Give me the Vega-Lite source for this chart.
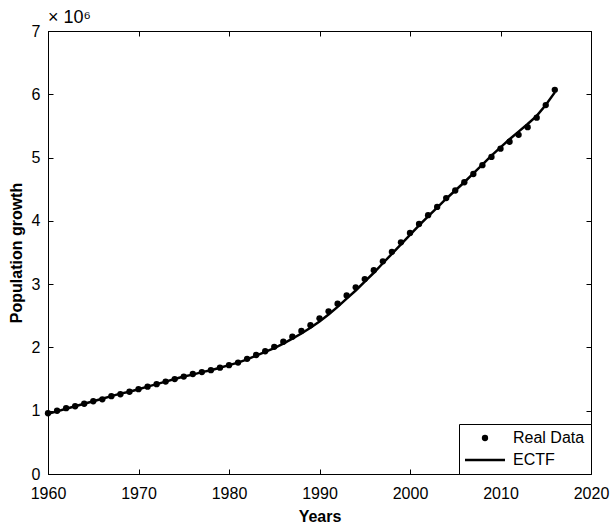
{
  "$schema": "https://vega.github.io/schema/vega-lite/v6.json",
  "autosize": "none",
  "width": 543,
  "height": 443,
  "padding": {"left": 48, "top": 31, "right": 20, "bottom": 55},
  "background": "white",
  "title": {"text": "× 10⁶", "anchor": "start", "frame": "group", "font": "Liberation Sans", "fontSize": 18, "fontWeight": "normal", "color": "black", "offset": -4},
  "datasets": {
    "real": [
      {"year": 1960, "value": 0.96, "series": "Real Data"},
      {"year": 1961, "value": 1.00, "series": "Real Data"},
      {"year": 1962, "value": 1.04, "series": "Real Data"},
      {"year": 1963, "value": 1.07, "series": "Real Data"},
      {"year": 1964, "value": 1.11, "series": "Real Data"},
      {"year": 1965, "value": 1.15, "series": "Real Data"},
      {"year": 1966, "value": 1.18, "series": "Real Data"},
      {"year": 1967, "value": 1.23, "series": "Real Data"},
      {"year": 1968, "value": 1.26, "series": "Real Data"},
      {"year": 1969, "value": 1.30, "series": "Real Data"},
      {"year": 1970, "value": 1.34, "series": "Real Data"},
      {"year": 1971, "value": 1.38, "series": "Real Data"},
      {"year": 1972, "value": 1.42, "series": "Real Data"},
      {"year": 1973, "value": 1.46, "series": "Real Data"},
      {"year": 1974, "value": 1.50, "series": "Real Data"},
      {"year": 1975, "value": 1.54, "series": "Real Data"},
      {"year": 1976, "value": 1.58, "series": "Real Data"},
      {"year": 1977, "value": 1.61, "series": "Real Data"},
      {"year": 1978, "value": 1.64, "series": "Real Data"},
      {"year": 1979, "value": 1.68, "series": "Real Data"},
      {"year": 1980, "value": 1.72, "series": "Real Data"},
      {"year": 1981, "value": 1.76, "series": "Real Data"},
      {"year": 1982, "value": 1.82, "series": "Real Data"},
      {"year": 1983, "value": 1.88, "series": "Real Data"},
      {"year": 1984, "value": 1.94, "series": "Real Data"},
      {"year": 1985, "value": 2.01, "series": "Real Data"},
      {"year": 1986, "value": 2.09, "series": "Real Data"},
      {"year": 1987, "value": 2.17, "series": "Real Data"},
      {"year": 1988, "value": 2.26, "series": "Real Data"},
      {"year": 1989, "value": 2.35, "series": "Real Data"},
      {"year": 1990, "value": 2.46, "series": "Real Data"},
      {"year": 1991, "value": 2.57, "series": "Real Data"},
      {"year": 1992, "value": 2.69, "series": "Real Data"},
      {"year": 1993, "value": 2.82, "series": "Real Data"},
      {"year": 1994, "value": 2.95, "series": "Real Data"},
      {"year": 1995, "value": 3.08, "series": "Real Data"},
      {"year": 1996, "value": 3.22, "series": "Real Data"},
      {"year": 1997, "value": 3.36, "series": "Real Data"},
      {"year": 1998, "value": 3.51, "series": "Real Data"},
      {"year": 1999, "value": 3.66, "series": "Real Data"},
      {"year": 2000, "value": 3.81, "series": "Real Data"},
      {"year": 2001, "value": 3.95, "series": "Real Data"},
      {"year": 2002, "value": 4.09, "series": "Real Data"},
      {"year": 2003, "value": 4.22, "series": "Real Data"},
      {"year": 2004, "value": 4.36, "series": "Real Data"},
      {"year": 2005, "value": 4.48, "series": "Real Data"},
      {"year": 2006, "value": 4.61, "series": "Real Data"},
      {"year": 2007, "value": 4.74, "series": "Real Data"},
      {"year": 2008, "value": 4.88, "series": "Real Data"},
      {"year": 2009, "value": 5.01, "series": "Real Data"},
      {"year": 2010, "value": 5.14, "series": "Real Data"},
      {"year": 2011, "value": 5.25, "series": "Real Data"},
      {"year": 2012, "value": 5.36, "series": "Real Data"},
      {"year": 2013, "value": 5.48, "series": "Real Data"},
      {"year": 2014, "value": 5.63, "series": "Real Data"},
      {"year": 2015, "value": 5.83, "series": "Real Data"},
      {"year": 2016, "value": 6.07, "series": "Real Data"}
    ],
    "fit": [
      {"year": 1960, "value": 0.95, "series": "ECTF"},
      {"year": 1961, "value": 0.99, "series": "ECTF"},
      {"year": 1962, "value": 1.03, "series": "ECTF"},
      {"year": 1963, "value": 1.07, "series": "ECTF"},
      {"year": 1964, "value": 1.11, "series": "ECTF"},
      {"year": 1965, "value": 1.15, "series": "ECTF"},
      {"year": 1966, "value": 1.19, "series": "ECTF"},
      {"year": 1967, "value": 1.23, "series": "ECTF"},
      {"year": 1968, "value": 1.27, "series": "ECTF"},
      {"year": 1969, "value": 1.30, "series": "ECTF"},
      {"year": 1970, "value": 1.34, "series": "ECTF"},
      {"year": 1971, "value": 1.38, "series": "ECTF"},
      {"year": 1972, "value": 1.42, "series": "ECTF"},
      {"year": 1973, "value": 1.46, "series": "ECTF"},
      {"year": 1974, "value": 1.50, "series": "ECTF"},
      {"year": 1975, "value": 1.54, "series": "ECTF"},
      {"year": 1976, "value": 1.57, "series": "ECTF"},
      {"year": 1977, "value": 1.61, "series": "ECTF"},
      {"year": 1978, "value": 1.64, "series": "ECTF"},
      {"year": 1979, "value": 1.68, "series": "ECTF"},
      {"year": 1980, "value": 1.72, "series": "ECTF"},
      {"year": 1981, "value": 1.76, "series": "ECTF"},
      {"year": 1982, "value": 1.81, "series": "ECTF"},
      {"year": 1983, "value": 1.87, "series": "ECTF"},
      {"year": 1984, "value": 1.93, "series": "ECTF"},
      {"year": 1985, "value": 1.99, "series": "ECTF"},
      {"year": 1986, "value": 2.06, "series": "ECTF"},
      {"year": 1987, "value": 2.14, "series": "ECTF"},
      {"year": 1988, "value": 2.22, "series": "ECTF"},
      {"year": 1989, "value": 2.31, "series": "ECTF"},
      {"year": 1990, "value": 2.41, "series": "ECTF"},
      {"year": 1991, "value": 2.52, "series": "ECTF"},
      {"year": 1992, "value": 2.64, "series": "ECTF"},
      {"year": 1993, "value": 2.77, "series": "ECTF"},
      {"year": 1994, "value": 2.90, "series": "ECTF"},
      {"year": 1995, "value": 3.04, "series": "ECTF"},
      {"year": 1996, "value": 3.18, "series": "ECTF"},
      {"year": 1997, "value": 3.33, "series": "ECTF"},
      {"year": 1998, "value": 3.48, "series": "ECTF"},
      {"year": 1999, "value": 3.63, "series": "ECTF"},
      {"year": 2000, "value": 3.78, "series": "ECTF"},
      {"year": 2001, "value": 3.93, "series": "ECTF"},
      {"year": 2002, "value": 4.07, "series": "ECTF"},
      {"year": 2003, "value": 4.21, "series": "ECTF"},
      {"year": 2004, "value": 4.35, "series": "ECTF"},
      {"year": 2005, "value": 4.48, "series": "ECTF"},
      {"year": 2006, "value": 4.61, "series": "ECTF"},
      {"year": 2007, "value": 4.75, "series": "ECTF"},
      {"year": 2008, "value": 4.89, "series": "ECTF"},
      {"year": 2009, "value": 5.03, "series": "ECTF"},
      {"year": 2010, "value": 5.16, "series": "ECTF"},
      {"year": 2011, "value": 5.29, "series": "ECTF"},
      {"year": 2012, "value": 5.41, "series": "ECTF"},
      {"year": 2013, "value": 5.53, "series": "ECTF"},
      {"year": 2014, "value": 5.66, "series": "ECTF"},
      {"year": 2015, "value": 5.83, "series": "ECTF"},
      {"year": 2016, "value": 6.03, "series": "ECTF"}
    ]
  },
  "config": {
    "view": {"stroke": "black", "strokeWidth": 1},
    "axis": {
      "labelFont": "Liberation Sans", "labelFontSize": 16, "labelColor": "black", "labelFlush": false,
      "titleFont": "Liberation Sans", "titleFontSize": 16, "titleFontWeight": "bold", "titleColor": "black",
      "domainColor": "black", "tickColor": "black", "grid": false, "tickSize": -5
    },
    "axisX": {"labelPadding": 16, "titlePadding": 7},
    "axisY": {"labelPadding": 13, "titlePadding": 7},
    "legend": {
      "orient": "bottom-right", "offset": 0, "strokeColor": "black", "fillColor": "white",
      "padding": 6, "symbolSize": 16, "labelOffset": 32, "rowPadding": 6,
      "labelFont": "Liberation Sans", "labelFontSize": 16, "labelColor": "black"
    }
  },
  "layer": [
    {
      "data": {"name": "fit"},
      "mark": {"type": "line", "color": "black", "strokeWidth": 2.5},
      "encoding": {
        "x": {"field": "year", "type": "quantitative", "scale": {"domain": [1960, 2020], "nice": false, "zero": false},
              "axis": {"orient": "top", "labels": false, "title": null, "values": [1960, 1970, 1980, 1990, 2000, 2010, 2020]}},
        "y": {"field": "value", "type": "quantitative", "scale": {"domain": [0, 7], "nice": false},
              "axis": {"orient": "right", "labels": false, "title": null, "values": [0, 1, 2, 3, 4, 5, 6, 7]}},
        "color": {"field": "series", "type": "nominal", "scale": {"domain": ["Real Data", "ECTF"], "range": ["black", "black"]},
                  "legend": {"title": null,
                    "encode": {
                      "symbols": {"update": {
                        "shape": {"signal": "datum.value === 'ECTF' ? 'M-1,0H1' : 'circle'"},
                        "size": {"signal": "datum.value === 'ECTF' ? 1600 : 40"},
                        "strokeWidth": {"signal": "datum.value === 'ECTF' ? 2.5 : 0"},
                        "fill": {"value": "black"},
                        "stroke": {"value": "black"},
                        "fillOpacity": {"value": 1},
                        "opacity": {"value": 1},
                        "x": {"value": 20}
                      }}
                    }}}
      }
    },
    {
      "data": {"name": "real"},
      "mark": {"type": "point", "filled": true, "size": 40, "opacity": 1, "shape": "circle"},
      "encoding": {
        "x": {"field": "year", "type": "quantitative", "title": "Years",
              "axis": {"orient": "bottom", "format": "d", "values": [1960, 1970, 1980, 1990, 2000, 2010, 2020]}},
        "y": {"field": "value", "type": "quantitative", "title": "Population growth",
              "axis": {"orient": "left", "values": [0, 1, 2, 3, 4, 5, 6, 7]}},
        "color": {"field": "series", "type": "nominal"}
      }
    }
  ],
  "resolve": {"axis": {"x": "independent", "y": "independent"}}
}
